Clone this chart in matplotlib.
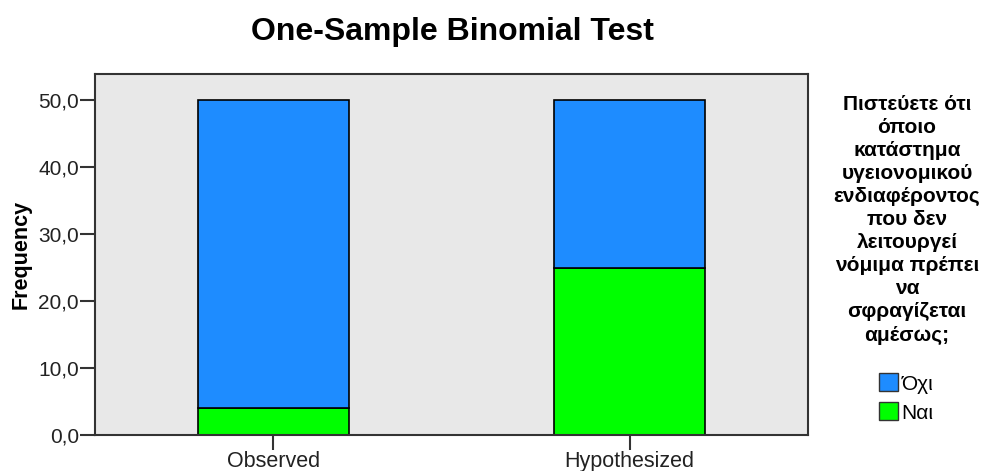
import numpy as np
import matplotlib
matplotlib.use("Agg")
import matplotlib.pyplot as plt
from matplotlib.patches import Patch

plt.rcParams['font.family'] = ['Liberation Sans', 'DejaVu Sans']

categories = ['Observed', 'Hypothesized']
nai = [4, 25]
ochi = [46, 25]
yticks = [0, 10, 20, 30, 40, 50]
legend_title = ("Πιστεύετε ότι\nόποιο\nκατάστημα\nυγειονομικού\nενδιαφέροντος\n"
                "που δεν\nλειτουργεί\nνόμιμα πρέπει\nνα\nσφραγίζεται\nαμέσως;")

blue = '#1e8cff'
green = '#00ff00'

fig = plt.figure(figsize=[9.95, 4.71], dpi=100)
ax = fig.add_axes([95 / 995, 1 - 435 / 471, 713 / 995, 361 / 471])
ax.set_facecolor('#e8e8e8')

x = np.arange(len(categories))
ax.bar(x, nai, width=0.424, color=green, edgecolor='black', linewidth=1.2)
ax.bar(x, ochi, width=0.424, bottom=nai, color=blue, edgecolor='black', linewidth=1.2)

ax.set_xlim(-0.5, 1.5)
ax.set_ylim(0, 53.9)
ax.set_xticks(x)
ax.set_xticklabels(categories, fontsize=15.5, color='#222222')
ax.set_yticks(yticks)
ax.set_yticklabels([f"{v},0" for v in yticks], fontsize=15, color='#222222')
ax.tick_params(axis='both', length=10.5, width=1.5, color='#333333', pad=1)
for s in ax.spines.values():
    s.set_linewidth(1.5)
    s.set_color('#333333')

ax.set_ylabel('Frequency', fontsize=15.5, fontweight='bold', labelpad=5)
fig.text(452 / 995, 1 - 32 / 471, 'One-Sample Binomial Test', fontsize=23,
         fontweight='bold', ha='center', va='center')

fig.text(907 / 995, 1 - 95 / 471, legend_title, fontsize=15, fontweight='bold',
         ha='center', va='top', linespacing=1.27)

handles = [Patch(facecolor=blue, edgecolor='#333333'),
           Patch(facecolor=green, edgecolor='#333333')]
fig.legend(handles, ['Όχι', 'Ναι'], loc='center', bbox_to_anchor=(906 / 995, 1 - 398 / 471),
           frameon=False, fontsize=15, handlelength=0.95, handleheight=0.95,
           handletextpad=0.15, labelspacing=0.42, borderpad=0)

fig.savefig('out.png', dpi=100)
